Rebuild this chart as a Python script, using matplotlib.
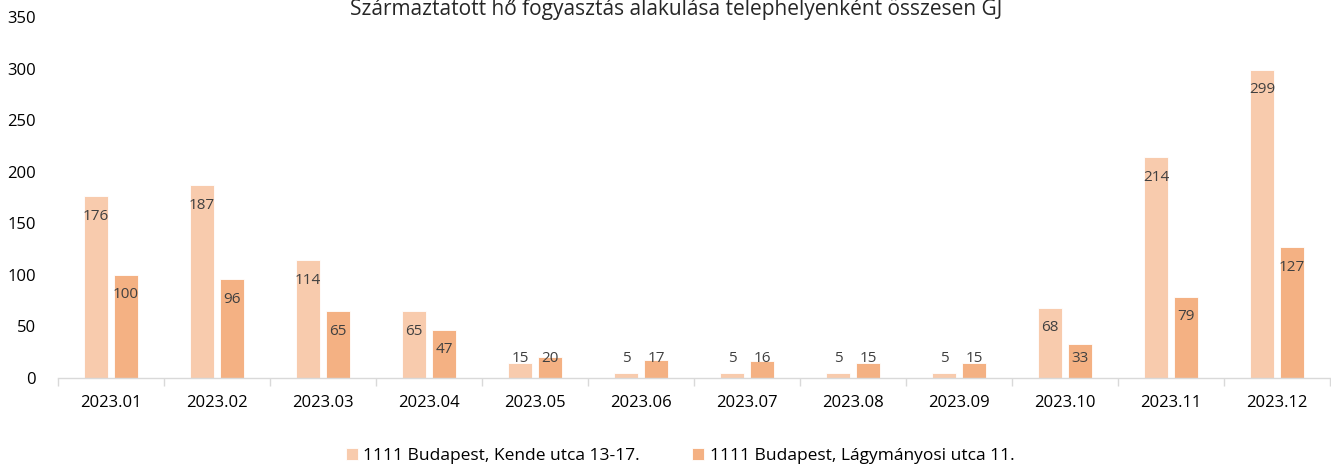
import numpy as np
import matplotlib.pyplot as plt

# Chart data
months = ["2023.01", "2023.02", "2023.03", "2023.04", "2023.05", "2023.06",
          "2023.07", "2023.08", "2023.09", "2023.10", "2023.11", "2023.12"]
kende = [176, 187, 114, 65, 15, 5, 5, 5, 5, 68, 214, 299]
lagymanyosi = [100, 96, 65, 47, 20, 17, 16, 15, 15, 33, 79, 127]
series_names = ["1111 Budapest, Kende utca 13-17.", "1111 Budapest, Lágymányosi utca 11."]
title = "Származtatott hő fogyasztás alakulása telephelyenként összesen GJ"

plt.rcParams["font.family"] = ["Open Sans", "DejaVu Sans"]

fig = plt.figure(figsize=(13.31, 4.65), dpi=100)
ax = fig.add_axes([58 / 1331, 87 / 465, 1272 / 1331, 361 / 465])

x = np.arange(len(months))
w = 0.22
off = 0.142
colors = ["#F8CBAD", "#F4B183"]
b1 = ax.bar(x - off, kende, w, color=colors[0], edgecolor="white", linewidth=0.6, label=series_names[0])
b2 = ax.bar(x + off, lagymanyosi, w, color=colors[1], edgecolor="white", linewidth=0.6, label=series_names[1])

# value labels: inside end, clamped near the base
for xs, vals in ((x - off, kende), (x + off, lagymanyosi)):
    for xi, v in zip(xs, vals):
        ax.text(xi, max(v - 19.5, 18.5), str(v), ha="center", va="center",
                fontsize=11, color="#404040")

ax.set_xlim(-0.5, len(months) - 0.5)
ax.set_ylim(0, 350)
ax.set_yticks(range(0, 351, 50))
ax.set_xticks(x)
ax.set_xticklabels(months)
ax.set_xticks(np.arange(-0.5, len(months), 1), minor=True)
ax.tick_params(axis="x", which="major", length=0, pad=12, labelsize=12)
ax.tick_params(axis="x", which="minor", length=6, color="#D9D9D9", width=1)
ax.tick_params(axis="y", length=0, pad=16, labelsize=12)

for s in ("top", "right", "left"):
    ax.spines[s].set_visible(False)
ax.spines["bottom"].set_color("#D9D9D9")
ax.spines["bottom"].set_linewidth(1)

fig.text(0.508, 1 - 10 / 465, title, ha="center", va="center", fontsize=15, color="#262626")

fig.legend(handles=[b1, b2], loc="center", bbox_to_anchor=(0.511, 1 - 456 / 465),
           ncol=2, frameon=False, fontsize=12.5, handlelength=0.7, handleheight=0.7,
           columnspacing=3.0, handletextpad=0.3)

fig.savefig("out.png", dpi=100)
